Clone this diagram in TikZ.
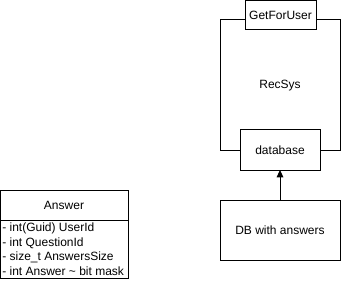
\documentclass[tikz,border=0pt]{standalone}
\usepackage{fontspec}
\setmainfont{Liberation Sans}
\usetikzlibrary{arrows.meta}
\begin{document}
\begin{tikzpicture}[x=0.75pt,y=-0.75pt,
  box/.style={draw=black,line width=0.75pt,fill=white},
  lbl/.style={font=\fontsize{9}{10.5}\selectfont,inner sep=0pt},
  arr/.style={draw=black,line width=0.75pt,-{Triangle[length=5.5pt,width=5pt]}}]
\useasboundingbox (0,0) rectangle (341,281);
% RecSys container with its two ports
\draw[box] (220,20) rectangle (340,150);
\node[lbl] (recsys) at (280,86) {RecSys};
\draw[box] (245,0.5) rectangle (316,30);
\node[lbl] (get) at (280.5,15) {GetForUser};
\draw[box] (240,130) rectangle (320,170);
\coordinate (dbtop) at (280,170);
\node[lbl] (database) at (280,150) {database};
% external store
\draw[box] (220,200) rectangle (340,260);
\coordinate (anstop) at (280,200);
\node[lbl] (dbans) at (280,230) {DB with answers};
\draw[arr] (anstop) -- (dbtop);
% Answer class
\draw[box] (0.5,190) rectangle (128,278);
\draw[line width=0.75pt] (0.5,220) -- (128,220);
\node[lbl] (answer) at (64,205) {Answer};
\node[lbl,anchor=west] (f1) at (2,228) {- int(Guid) UserId};
\node[lbl,anchor=west] (f2) at (2,243) {- int QuestionId};
\node[lbl,anchor=west] (f3) at (2,257.5) {- size\_t AnswersSize};
\node[lbl,anchor=west] (f4) at (2,271.5) {- int Answer \textasciitilde{} bit mask};
\end{tikzpicture}
\end{document}
